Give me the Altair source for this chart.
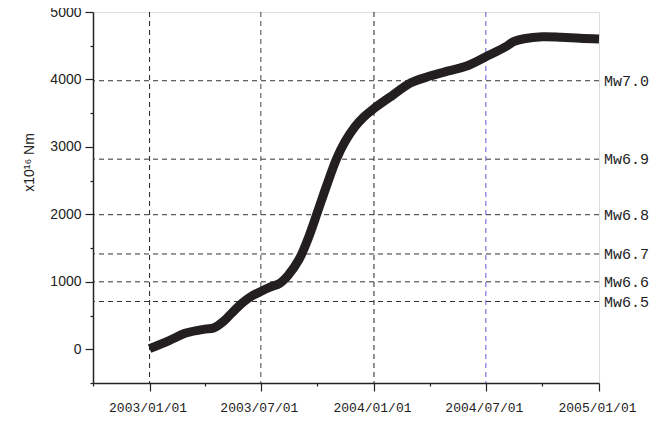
import altair as alt
import pandas as pd

# Cumulative moment curve (x10^16 Nm)
dates = ["2003-01-01", "2003-02-01", "2003-03-01", "2003-04-01", "2003-04-15",
         "2003-05-01", "2003-05-15", "2003-06-01", "2003-06-15", "2003-07-01",
         "2003-07-15", "2003-08-01", "2003-08-15", "2003-09-01", "2003-09-15",
         "2003-10-01", "2003-10-15", "2003-11-01", "2003-11-15", "2003-12-01",
         "2003-12-15", "2004-01-01", "2004-02-01", "2004-03-01", "2004-04-01",
         "2004-05-01", "2004-06-01", "2004-07-01", "2004-08-01", "2004-08-15",
         "2004-09-01", "2004-10-01", "2004-11-01", "2004-12-01", "2005-01-01"]
moment = [10, 126, 240, 299, 314,
          412, 540, 688, 783, 857,
          916, 980, 1104, 1330, 1620,
          2030, 2400, 2820, 3080, 3300,
          3440, 3570, 3770, 3950, 4050,
          4126, 4204, 4337, 4478, 4560,
          4604, 4634, 4625, 4610, 4600]

# Magnitude reference lines
mw_labels = ["Mw6.5", "Mw6.6", "Mw6.7", "Mw6.8", "Mw6.9", "Mw7.0"]
mw_values = [708, 1000, 1413, 1995, 2818, 3981]

# Vertical reference lines
vline_dates = ["2003-01-01", "2003-07-01", "2004-01-01", "2004-07-01"]
vline_colors = ["#222222", "#444444", "#222222", "#5a5ad0"]

x_tick_dates = ["2002-10-01", "2003-01-01", "2003-04-01", "2003-07-01", "2003-10-01",
                "2004-01-01", "2004-04-01", "2004-07-01", "2004-10-01", "2005-01-01"]
y_tick_values = [-500, 0, 500, 1000, 1500, 2000, 2500, 3000, 3500, 4000, 4500, 5000]

W, H = 506, 371

curve_df = pd.DataFrame({"date": dates, "moment": moment})
mw_df = pd.DataFrame({"label": mw_labels, "value": mw_values})
vl_df = pd.DataFrame({"date": vline_dates, "color": vline_colors})

def to_dt(s):
    y, m, d = [int(v) for v in s.split("-")]
    return alt.DateTime(year=y, month=m, date=d, utc=True)

xscale = alt.Scale(type="utc", domain=[to_dt("2002-10-01"), to_dt("2005-01-01")])
yscale = alt.Scale(domain=[-500, 5000], nice=False, zero=False)

label_font = "Liberation Mono"

xaxis = alt.Axis(
    values=[to_dt(s) for s in x_tick_dates],
    labelExpr="utcmonth(datum.value) % 6 === 0 ? utcFormat(datum.value, '%Y/%m/%d') : ''",
    tickSize={"condition": {"test": "utcmonth(datum.value) % 6 === 0", "value": 8}, "value": 3},
    grid=False, title=None, domainColor="#222", tickColor="#222", domainWidth=1.5,
    tickWidth=1.2, labelOverlap=False,
    labelFont=label_font, labelFontSize=13, labelColor="#222", labelPadding=10,
    labelFlush=False, labelOffset=-2,
)
yaxis = alt.Axis(
    values=y_tick_values,
    labelExpr="datum.value % 1000 === 0 ? format(datum.value, 'd') : ''",
    tickSize={"condition": {"test": "datum.value % 1000 === 0", "value": 8}, "value": 3},
    labelOverlap=False,
    grid=False, title="x10¹⁶ Nm", titleFont="Liberation Sans", titleFontSize=14,
    titleFontWeight="normal", titleColor="#222",
    titleX=-64, titleY=150, titleBaseline="middle", titleAngle=270,
    domainColor="#222", tickColor="#222", domainWidth=1.5, tickWidth=1.2,
    labelFont="Liberation Sans", labelFontSize=14, labelColor="#222", labelPadding=4,
)

hlines = alt.Chart(mw_df).mark_rule(strokeDash=[5, 4], color="#333", strokeWidth=1).encode(
    y=alt.Y("value:Q", scale=yscale, axis=yaxis)
)
vlines = alt.Chart(vl_df).mark_rule(strokeDash=[5, 4], strokeWidth=1).encode(
    x=alt.X("date:T", scale=xscale, axis=xaxis),
    color=alt.Color("color:N", scale=None),
)
curve = alt.Chart(curve_df).mark_line(
    color="#231f20", strokeWidth=9, interpolate="catmull-rom", strokeCap="butt"
).encode(
    x=alt.X("date:T", scale=xscale, axis=xaxis),
    y=alt.Y("moment:Q", scale=yscale, axis=yaxis),
)
labels = alt.Chart(mw_df).mark_text(
    align="left", baseline="middle", font=label_font, fontSize=15, color="#222", dx=5
).encode(
    x=alt.value(W),
    y=alt.Y("value:Q", scale=yscale, axis=yaxis),
    text="label:N",
)

chart = alt.layer(hlines, vlines, curve, labels).properties(
    width=W, height=H,
    autosize=alt.AutoSizeParams(type="none"),
    padding={"left": 85, "top": 4, "right": 60, "bottom": 40},
).configure_view(stroke="#222", strokeWidth=1.5).configure(background="white")

chart.save("out.html", embed_options={"renderer": "svg", "actions": False})
